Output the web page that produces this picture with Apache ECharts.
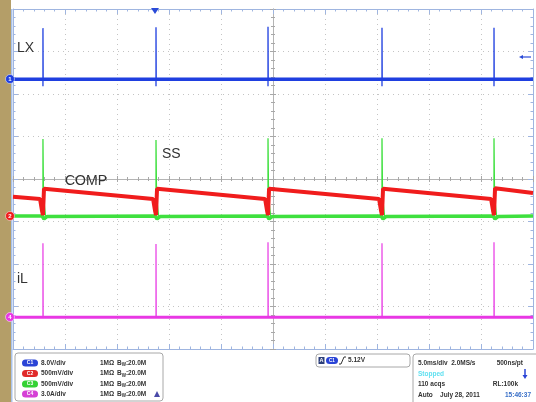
<!DOCTYPE html>
<html><head><meta charset="utf-8">
<script src="https://cdn.jsdelivr.net/npm/echarts@6/dist/echarts.min.js"></script>
<style>html,body{margin:0;padding:0;background:#fff}#c{width:536px;height:402px}</style>
</head><body><div id="c"></div><script>
// time axis: 10 div x 5 ms; vertical: 8 div (values in divisions)
const timeRange = [0, 50];
const divRange = [-4, 4];
const spikeTimes = [2.88, 13.75, 24.52, 35.48, 46.25]; // ms

// CH1 LX (blue)
const lxBase = 2.35;
const lxPeak = [3.55, 3.57, 3.58, 3.56, 3.56];
const lxDip  = [2.18, 2.18, 2.18, 2.18, 2.18];
// CH3 SS (green)
const ssTrace = [
  [0,-0.87],[2.8,-0.87],[2.98,-0.94],[3.3,-0.88],
  [13.67,-0.87],[13.85,-0.94],[14.17,-0.88],
  [24.44,-0.87],[24.62,-0.94],[24.94,-0.88],
  [35.4,-0.87],[35.58,-0.94],[35.9,-0.88],
  [46.17,-0.87],[46.35,-0.94],[46.67,-0.88],[50,-0.87]
];
const ssBase = -0.87;
const ssPeak = [0.94, 0.92, 0.96, 0.96, 0.96];
// CH2 COMP (red)
const compTrace = [
  [0,-0.42],[2.6,-0.47],[2.8,-0.76],[2.88,-0.85],[2.98,-0.23],
  [13.47,-0.47],[13.67,-0.76],[13.75,-0.85],[13.85,-0.23],
  [24.24,-0.47],[24.44,-0.76],[24.52,-0.85],[24.62,-0.23],
  [35.2,-0.47],[35.4,-0.76],[35.48,-0.85],[35.58,-0.23],
  [45.97,-0.47],[46.17,-0.76],[46.25,-0.85],[46.35,-0.22],
  [50,-0.33]
];
// CH4 iL (magenta)
const ilBase = -3.25;
const ilPeak = [-1.51, -1.53, -1.49, -1.51, -1.49];

const labels = ['LX', 'COMP', 'SS', 'iL'];
const chanScale = ['8.0V/div', '500mV/div', '500mV/div', '3.0A/div'];
const chanNames = ['C1', 'C2', 'C3', 'C4'];
const chanColors = ['#2a44d6', '#e02a2a', '#34d234', '#d640d6'];
const trigText = '5.12V';
const acqInfo = ['5.0ms/div  2.0MS/s', '500ns/pt', 'Stopped', '110 acqs', 'RL:100k', 'Auto    July 28, 2011', '15:46:37'];

const BLUE = '#1f3fe0', RED = '#f01c1c', GREEN = '#3ee03e', MAG = '#e838e4';

function spikeData(base, peaks, dips, fall) {
  const d = [];
  spikeTimes.forEach((t, i) => {
    d.push([t, dips ? dips[i] : base], [t, peaks[i]]);
    if (fall) { d.push([t + 0.05, base + 0.45], [t + 0.25, base]); }
    else d.push([t + 0.02, base]);
    d.push([t + 0.3, '-']);
  });
  return d;
}

const frameColor = '#9fb5e0';
function frameAxis(pos, min, max, interval, split) {
  return {
    type: 'value', gridIndex: 0, min, max, interval, position: pos,
    axisLine: { show: true, onZero: false, lineStyle: { color: frameColor, width: 1 } },
    axisTick: { show: true, inside: true, length: 5, lineStyle: { color: frameColor } },
    minorTick: { show: true, splitNumber: 5, length: 2.5, lineStyle: { color: frameColor } },
    axisLabel: { show: false },
    splitLine: { show: split, lineStyle: { color: '#c4c4c4', type: [1, 4], width: 1 } }
  };
}
function centerAxis(pos, min, max, interval) {
  return {
    type: 'value', gridIndex: 1, min, max, interval, position: pos,
    axisLine: { show: true, onZero: true, lineStyle: { color: '#b4b4b4', width: 1 } },
    axisTick: { show: true, inside: true, length: 3, lineStyle: { color: '#a8a8a8' } },
    minorTick: { show: true, splitNumber: 5, length: 2, lineStyle: { color: '#a8a8a8' } },
    axisLabel: { show: false }, splitLine: { show: false }
  };
}

const gridRect = { left: 13, top: 9, width: 520, height: 340 };
const series = [
  { type: 'line', data: ssTrace, lineStyle: { color: GREEN, width: 3.5 }, z: 2 },
  { type: 'line', data: spikeData(ssBase, ssPeak, null, true), lineStyle: { color: GREEN, width: 1.3 }, z: 3 },
  { type: 'line', data: compTrace, lineStyle: { color: RED, width: 4 }, z: 4 },
  { type: 'line', data: [[timeRange[0], lxBase], [timeRange[1], lxBase]], lineStyle: { color: BLUE, width: 3.5 }, z: 4 },
  { type: 'line', data: spikeData(lxBase, lxPeak, lxDip, false), lineStyle: { color: BLUE, width: 1.3 }, z: 4 },
  { type: 'line', data: [[timeRange[0], ilBase], [timeRange[1], ilBase]], lineStyle: { color: MAG, width: 3 }, z: 4 },
  { type: 'line', data: spikeData(ilBase, ilPeak, null, false), lineStyle: { color: MAG, width: 1.2 }, z: 4 }
].map(s => Object.assign({ xAxisIndex: 0, yAxisIndex: 0, symbol: 'none', silent: true, connectNulls: false, animation: false }, s));

const txt = (x, y, text, style) => ({ type: 'text', x, y, z: 100, silent: true,
  style: Object.assign({ text, fill: '#333', fontSize: 14, fontFamily: 'Liberation Sans, Arial, sans-serif', verticalAlign: 'middle' }, style) });

const graphic = [];
// left tan strip
graphic.push({ type: 'rect', shape: { x: 0, y: 0, width: 11, height: 402 }, style: { fill: '#b49e68' }, z: 50 });
graphic.push({ type: 'rect', shape: { x: 11, y: 9, width: 1.5, height: 393 }, style: { fill: '#a9c2ea' }, z: 50 });
// trace labels
graphic.push(txt(17, 48, labels[0]));
graphic.push(txt(65, 181, labels[1]));
graphic.push(txt(162, 154, labels[2]));
graphic.push(txt(17, 279, labels[3]));
// channel markers
[[79, '1', BLUE], [216, '2', RED], [317, '4', MAG]].forEach(([y, n, c]) => {
  graphic.push({ type: 'circle', shape: { cx: 10, cy: y, r: 4.5 }, style: { fill: c, stroke: '#fff', lineWidth: 0.5 }, z: 101 });
  graphic.push({ type: 'text', x: 10, y: y, z: 102, style: { text: n, fill: '#fff', fontSize: 6, fontWeight: 'bold', align: 'center', verticalAlign: 'middle', fontFamily: 'Liberation Sans' } });
});
// trigger position marker and level arrow
graphic.push({ type: 'polygon', shape: { points: [[151, 8], [159, 8], [155, 14]] }, style: { fill: '#2a4ad8' }, z: 101 });
graphic.push({ type: 'line', shape: { x1: 522, y1: 57, x2: 531, y2: 57 }, style: { stroke: '#2a4ad8', lineWidth: 1.2 }, z: 101 });
graphic.push({ type: 'polygon', shape: { points: [[519, 57], [523, 55], [523, 59]] }, style: { fill: '#2a4ad8' }, z: 101 });

// bottom left box
graphic.push({ type: 'rect', shape: { x: 15, y: 353, width: 148, height: 48, r: 3 }, style: { fill: '#fff', stroke: '#a8a8a8', lineWidth: 1 }, z: 60 });
const rowsY = [363, 373.5, 384, 394];
chanNames.forEach((n, i) => {
  const y = rowsY[i];
  graphic.push({ type: 'rect', shape: { x: 22, y: y - 3.5, width: 16, height: 7, r: 3.5 }, style: { fill: chanColors[i] }, z: 61 });
  graphic.push({ type: 'text', x: 30, y: y, z: 62, style: { text: n, fill: '#fff', fontSize: 5, align: 'center', verticalAlign: 'middle', fontFamily: 'Liberation Sans', fontWeight: 'bold' } });
  graphic.push(txt(41, y, chanScale[i], { fontSize: 6.5, fontWeight: 'bold', fill: '#333' }));
  graphic.push(txt(100, y, '1MΩ', { fontSize: 6.5, fontWeight: 'bold', fill: '#333' }));
  graphic.push({ type: 'text', x: 117, y: y, z: 100, style: { text: '{a|B}{b|W}{a|:20.0M}', verticalAlign: 'middle', fontFamily: 'Liberation Sans',
    rich: { a: { fontSize: 6.5, fontWeight: 'bold', fill: '#333' }, b: { fontSize: 4.5, fontWeight: 'bold', fill: '#333', padding: [4, 0, 0, 0] } } } });
});
graphic.push({ type: 'polygon', shape: { points: [[154, 397], [160, 397], [157, 391]] }, style: { fill: '#4a4aa8' }, z: 101 });

// trigger box
graphic.push({ type: 'rect', shape: { x: 316, y: 354, width: 94, height: 13, r: 3 }, style: { fill: '#fff', stroke: '#a8a8a8', lineWidth: 1 }, z: 60 });
graphic.push({ type: 'rect', shape: { x: 318.5, y: 357, width: 6, height: 7 }, style: { fill: '#2c3f7a' }, z: 61 });
graphic.push({ type: 'text', x: 321.5, y: 360.5, z: 62, style: { text: 'A', fill: '#fff', fontSize: 5.5, align: 'center', verticalAlign: 'middle', fontFamily: 'Liberation Sans', fontWeight: 'bold' } });
graphic.push({ type: 'rect', shape: { x: 326, y: 357, width: 12, height: 7, r: 3.5 }, style: { fill: chanColors[0] }, z: 61 });
graphic.push({ type: 'text', x: 332, y: 360.5, z: 62, style: { text: 'C1', fill: '#fff', fontSize: 4.5, align: 'center', verticalAlign: 'middle', fontFamily: 'Liberation Sans', fontWeight: 'bold' } });
graphic.push({ type: 'polyline', shape: { points: [[339, 364], [341, 364], [344, 357], [346, 357]] }, style: { stroke: '#333', lineWidth: 1, fill: null }, z: 61 });
graphic.push(txt(348, 360.5, trigText, { fontSize: 6.5, fontWeight: 'bold' }));

// acquisition box
graphic.push({ type: 'rect', shape: { x: 413, y: 354, width: 130, height: 52, r: 3 }, style: { fill: '#fff', stroke: '#a8a8a8', lineWidth: 1 }, z: 60 });
graphic.push(txt(418, 363, acqInfo[0], { fontSize: 6.5, fontWeight: 'bold' }));
graphic.push(txt(523, 363, acqInfo[1], { fontSize: 6.5, fontWeight: 'bold', align: 'right' }));
graphic.push(txt(418, 374, acqInfo[2], { fontSize: 6.5, fontWeight: 'bold', fill: '#5fe0f0' }));
graphic.push({ type: 'line', shape: { x1: 525, y1: 369, x2: 525, y2: 377 }, style: { stroke: '#2a44d6', lineWidth: 1.5 }, z: 101 });
graphic.push({ type: 'polygon', shape: { points: [[522.5, 375], [527.5, 375], [525, 379]] }, style: { fill: '#2a44d6' }, z: 101 });
graphic.push(txt(418, 384.5, acqInfo[3], { fontSize: 6.5, fontWeight: 'bold' }));
graphic.push(txt(518, 384.5, acqInfo[4], { fontSize: 6.5, fontWeight: 'bold', align: 'right' }));
graphic.push(txt(418, 395, acqInfo[5], { fontSize: 6.5, fontWeight: 'bold' }));
graphic.push(txt(531, 395, acqInfo[6], { fontSize: 6.5, fontWeight: 'bold', align: 'right', fill: '#3a70c8' }));

const chart = echarts.init(document.getElementById('c'), null, { renderer: 'canvas' });
chart.setOption({
  animation: false,
  backgroundColor: '#ffffff',
  grid: [Object.assign({}, gridRect), Object.assign({}, gridRect)],
  xAxis: [
    frameAxis('bottom', timeRange[0], timeRange[1], 5, true),
    frameAxis('top', timeRange[0], timeRange[1], 5, false),
    centerAxis('bottom', -25, 25, 5),
    centerAxis('top', -25, 25, 5)
  ],
  yAxis: [
    frameAxis('left', divRange[0], divRange[1], 1, true),
    frameAxis('right', divRange[0], divRange[1], 1, false),
    centerAxis('left', -4, 4, 1),
    centerAxis('right', -4, 4, 1)
  ],
  series,
  graphic
});
</script></body></html>
